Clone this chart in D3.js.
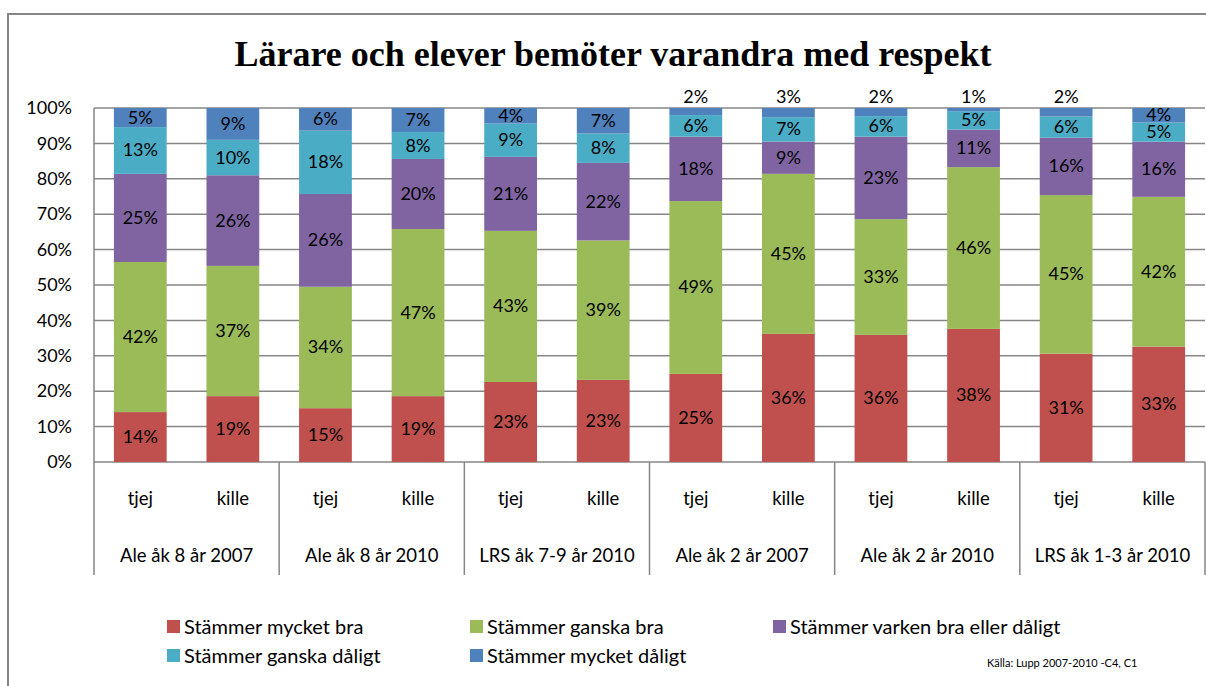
<!DOCTYPE html>
<html>
<head>
<meta charset="utf-8">
<script src="https://cdn.jsdelivr.net/npm/d3@7"></script>
<style>
  body { margin: 0; background: #fff; }
  svg text { font-family: Lato, "Open Sans", sans-serif; fill: #000; }
</style>
</head>
<body>
<svg id="chart" width="1206" height="686"></svg>
<script>
// data (percent)
var groups = ["Ale åk 8 år 2007", "Ale åk 8 år 2010", "LRS åk 7-9 år 2010", "Ale åk 2 år 2007", "Ale åk 2 år 2010", "LRS åk 1-3 år 2010"];
var genders = ["tjej", "kille"];
var seriesNames = ["Stämmer mycket bra", "Stämmer ganska bra", "Stämmer varken bra eller dåligt", "Stämmer ganska dåligt", "Stämmer mycket dåligt"];
var colors = ["#C0504D", "#9BBB59", "#8064A2", "#4BACC6", "#4F81BD"];

var mycketBra   = [14.1, 18.6, 15.2, 18.6, 22.6, 23.2, 24.9, 36.2, 35.9, 37.6, 30.6, 32.6];
var ganskaBra   = [42.4, 36.8, 34.3, 47.2, 42.7, 39.4, 48.8, 45.2, 32.7, 45.7, 44.8, 42.3];
var varken      = [24.9, 25.6, 26.2, 19.8, 20.9, 21.9, 18.2, 9.1, 23.3, 10.6, 16.2, 15.6];
var ganskaDalig = [13.2, 10.0, 17.9, 7.6, 9.4, 8.3, 6.1, 6.9, 5.8, 5.2, 6.0, 5.4];
var mycketDalig = [5.4, 9.0, 6.4, 6.8, 4.4, 7.2, 2.0, 2.6, 2.3, 0.9, 2.4, 4.1];

var yTicks = [0, 10, 20, 30, 40, 50, 60, 70, 80, 90, 100];

(function() {
var svg = d3.select("#chart");
var gridColor = "#868686";

var plotLeft = 94, plotRight = 1205, plotTop = 108, plotBottom = 462, axisBottom = 575;

// chart border
svg.append("rect")
    .attr("x", 8).attr("y", 14)
    .attr("width", 1210).attr("height", 690)
    .attr("fill", "none")
    .attr("stroke", gridColor)
    .attr("stroke-width", 2);

svg.append("text")
    .attr("x", 613).attr("y", 66)
    .attr("text-anchor", "middle")
    .style("font-family", "'Liberation Serif', 'DejaVu Serif', serif")
    .style("font-weight", "bold")
    .style("font-size", "36px")
    .text("Lärare och elever bemöter varandra med respekt");

var cats = [];
groups.forEach(function(g) {
    genders.forEach(function(s) { cats.push(g + "|" + s); });
});

var rows = cats.map(function(c, i) {
    return {
        cat: c,
        s0: mycketBra[i], s1: ganskaBra[i], s2: varken[i], s3: ganskaDalig[i], s4: mycketDalig[i]
    };
});

var x = d3.scaleBand().domain(cats).range([plotLeft, plotRight]).paddingInner(0.43).paddingOuter(0.215);
var xGroup = d3.scaleBand().domain(groups).range([plotLeft, plotRight]);
var y = d3.scaleLinear().domain([0, 100]).range([plotBottom, plotTop]);

// gridlines
svg.append("g").selectAll("line")
    .data(yTicks)
    .join("line")
    .attr("x1", plotLeft).attr("x2", plotRight)
    .attr("y1", function(d) { return y(d); })
    .attr("y2", function(d) { return y(d); })
    .attr("stroke", gridColor)
    .attr("stroke-width", 1.5);

// y axis labels
var yAxis = d3.axisLeft(y).tickValues(yTicks).tickSize(0).tickPadding(22)
    .tickFormat(function(d) { return d + "%"; });
var ya = svg.append("g").attr("transform", "translate(" + plotLeft + ",0)").call(yAxis);
ya.select(".domain").remove();
ya.selectAll("text").style("font-size", "18px").style("font-family", "Lato, sans-serif").attr("fill", "#000");

// left axis line
svg.append("line")
    .attr("x1", plotLeft).attr("x2", plotLeft)
    .attr("y1", plotTop).attr("y2", axisBottom)
    .attr("stroke", gridColor).attr("stroke-width", 1.5);

// stacked bars
var keys = ["s0", "s1", "s2", "s3", "s4"];
var stack = d3.stack().keys(keys)(rows);

var layer = svg.append("g").selectAll("g")
    .data(stack)
    .join("g")
    .attr("fill", function(d, i) { return colors[i]; });

layer.selectAll("rect")
    .data(function(d) { return d; })
    .join("rect")
    .attr("x", function(d) { return x(d.data.cat); })
    .attr("width", x.bandwidth())
    .attr("y", function(d) { return y(d[1]); })
    .attr("height", function(d) { return y(d[0]) - y(d[1]); });

// data labels
stack.forEach(function(s) {
    svg.append("g").selectAll("text")
        .data(s)
        .join("text")
        .attr("x", function(d) { return x(d.data.cat) + x.bandwidth() / 2; })
        .attr("y", function(d) {
            var v = d[1] - d[0];
            if (v < 3.5) return plotTop - 5;
            return y((d[0] + d[1]) / 2) + 6;
        })
        .attr("text-anchor", "middle")
        .style("font-size", "18px")
        .text(function(d) { return Math.round(d[1] - d[0]) + "%"; });
});

// category axis
var xa = svg.append("g");
xa.selectAll("text.sub")
    .data(cats)
    .join("text")
    .attr("class", "sub")
    .attr("x", function(d) { return x(d) + x.bandwidth() / 2; })
    .attr("y", 505)
    .attr("text-anchor", "middle")
    .style("font-size", "18.5px")
    .text(function(d) { return d.split("|")[1]; });

xa.selectAll("text.grp")
    .data(groups)
    .join("text")
    .attr("class", "grp")
    .attr("x", function(d) { return xGroup(d) + xGroup.bandwidth() / 2; })
    .attr("y", 562)
    .attr("text-anchor", "middle")
    .style("font-size", "18.5px")
    .text(function(d) { return d; });

xa.selectAll("line")
    .data(groups)
    .join("line")
    .attr("x1", function(d) { return xGroup(d) + xGroup.bandwidth(); })
    .attr("x2", function(d) { return xGroup(d) + xGroup.bandwidth(); })
    .attr("y1", plotBottom).attr("y2", axisBottom)
    .attr("stroke", gridColor).attr("stroke-width", 1.5);

// legend
var legendPos = [[167, 627], [470, 627], [773, 627], [167, 656], [470, 656]];
var legend = svg.append("g").selectAll("g")
    .data(seriesNames)
    .join("g")
    .attr("transform", function(d, i) { return "translate(" + legendPos[i][0] + "," + legendPos[i][1] + ")"; });

legend.append("rect")
    .attr("x", 0).attr("y", -7)
    .attr("width", 13).attr("height", 13)
    .attr("fill", function(d, i) { return colors[i]; });

legend.append("text")
    .attr("x", 17).attr("y", 7)
    .style("font-size", "20px")
    .text(function(d) { return d; });

svg.append("text")
    .attr("x", 987).attr("y", 667)
    .style("font-size", "11px")
    .text("Källa: Lupp 2007-2010 -C4, C1");
})();
</script>
</body>
</html>
